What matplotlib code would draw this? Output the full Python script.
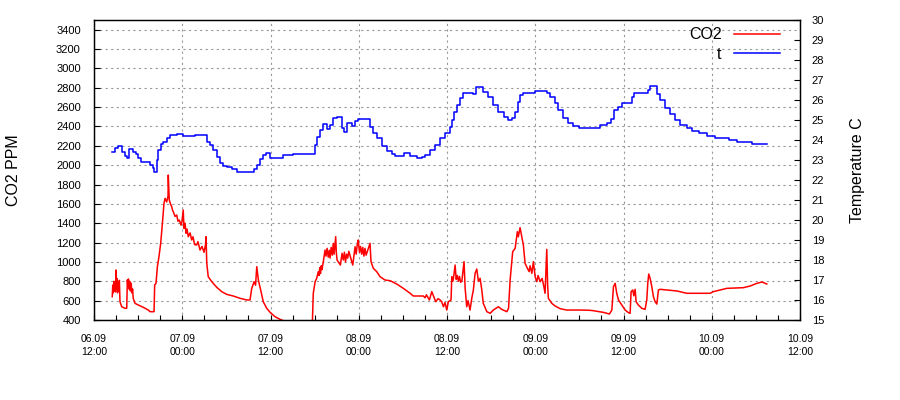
import numpy as np
import matplotlib
matplotlib.use("Agg")
import matplotlib.pyplot as plt
import matplotlib.dates as mdates

plt.rcParams['font.family'] = ['Liberation Sans', 'DejaVu Sans']

START = np.datetime64('2013-09-06T12:00')

# CO2 series: hours since 06.09 12:00, ppm
co2_hours = [2.49, 2.55, 2.62, 2.70, 2.78, 2.85, 2.92, 3.0, 3.05, 3.12, 3.2, 3.28, 3.36, 3.45, 3.54,
             3.77, 4.22, 4.45, 4.53, 4.6, 4.68, 4.76, 4.85, 4.95, 5.05, 5.15, 5.25, 5.34, 5.58, 6.02,
             6.70, 7.38, 7.62, 8.16, 8.25, 8.43, 8.61, 8.84, 9.07, 9.29, 9.52, 9.66, 9.89, 10.06,
             10.10, 10.24, 10.4, 10.57, 10.7, 10.79, 11.02, 11.25, 11.42, 11.60, 11.83, 11.97, 12.14,
             12.24, 12.38, 12.51, 12.65, 12.82, 13.06, 13.29, 13.46, 13.67, 13.97, 14.14, 14.42,
             14.69, 14.96, 15.16, 15.23, 15.33, 15.54, 16.01, 16.69, 17.37, 18.05, 18.94, 19.86,
             20.77, 21.22, 21.45, 21.76, 21.96, 22.13, 22.35, 22.67, 23.02, 23.49, 23.94, 24.62,
             25.30, 25.98, 27.0, 29.0, 29.69, 29.82, 30.06, 30.29, 30.50, 30.6, 30.7, 30.8, 30.9,
             31.0, 31.18, 31.42, 31.55, 31.7, 31.85, 32.0, 32.1, 32.25, 32.4, 32.54, 32.65, 32.86,
             32.95, 33.05, 33.50, 33.74, 33.9, 34.05, 34.2, 34.35, 34.5, 34.65, 35.18, 35.50, 35.65,
             35.8, 35.94, 36.1, 36.25, 36.4, 36.55, 36.7, 36.85, 37.0, 37.54, 37.67, 37.98, 38.45,
             38.9, 39.58, 40.26, 41.17, 42.06, 42.98, 43.42, 44.78, 45.02, 45.2, 45.60, 45.93, 46.1,
             46.47, 46.78, 47.06, 47.29, 47.51, 47.74, 47.97, 48.19, 48.55, 48.65, 48.8, 48.95,
             49.1, 49.25, 49.4, 49.55, 49.7, 49.85, 50.01, 50.32, 50.46, 50.69, 50.86, 51.14, 51.37,
             51.58, 51.82, 52.05, 52.27, 52.50, 52.73, 52.94, 53.41, 53.86, 54.30, 54.98, 55.43,
             56.13, 56.37, 56.58, 56.94, 57.26, 57.57, 57.7, 57.94, 58.17, 58.38, 58.62, 58.93,
             59.16, 59.30, 59.53, 59.75, 59.98, 60.21, 60.38, 60.66, 60.93, 61.13, 61.34, 61.57,
             61.68, 61.79, 62.25, 62.70, 63.38, 64.29, 66.10, 67.46, 67.90, 69.26, 70.08, 70.41,
             70.63, 70.86, 71.09, 71.31, 71.77, 72.22, 72.66, 72.90, 73.03, 73.26, 73.4, 73.58,
             73.71, 74.02, 74.49, 74.94, 75.17, 75.30, 75.44, 75.62, 75.85, 76.06, 76.30, 76.53,
             76.75, 76.98, 79.25, 80.61, 83.78, 84.22, 85.14, 86.05, 88.30, 89.22, 90.13, 90.81,
             91.49]
co2_ppm = [641, 760, 680, 800, 700, 780, 690, 917, 720, 830, 680, 790, 700, 810, 589,
           537, 521, 521, 813, 760, 824, 720, 800, 700, 780, 680, 720, 624, 572, 555,
           531, 503, 486, 486, 762, 779, 951, 1054, 1192, 1382, 1606, 1657, 1620, 1680,
           1898, 1640, 1600, 1571, 1530, 1519, 1470, 1485, 1420, 1433, 1380, 1420, 1537,
           1347, 1400, 1296, 1340, 1261, 1300, 1227, 1260, 1180, 1175, 1210, 1123,
           1160, 1100, 1180, 1261, 986, 847, 796, 738, 693, 665, 648, 624,
           607, 607, 727, 796, 760, 951, 813, 710, 589, 521, 480, 434,
           407, 385, 350, 340, 350, 676, 796, 831, 899, 860, 940, 880, 960,
           920, 1003, 1123, 1060, 1140, 1050, 1120, 1040, 1150, 1070, 1192, 1080, 1261,
           1100, 1020, 968, 1089, 1020, 1100, 1000, 1080, 1040, 1110, 968, 1157, 1080,
           1180, 1227, 1100, 1160, 1080, 1150, 1060, 1140, 1070, 1192, 1003, 934, 899,
           847, 813, 806, 772, 727, 676, 648, 648, 630, 660, 607, 693, 660,
           589, 620, 607, 589, 537, 580, 503, 589, 607, 847, 800, 870,
           968, 820, 860, 800, 850, 790, 800, 1003, 727, 537, 600, 503, 624,
           710, 882, 927, 800, 831, 710, 572, 486, 469, 503, 537, 510,
           486, 520, 813, 1106, 1141, 1313, 1260, 1354, 1261, 1175, 986, 934,
           900, 960, 882, 1003, 847, 796, 860, 796, 830, 760, 676, 1130,
           760, 624, 572, 545, 517, 503, 503, 500, 496, 479, 462, 503,
           744, 779, 676, 607, 555, 503, 476, 469, 693, 710, 650, 717,
           589, 555, 521, 510, 607, 779, 875, 831, 744, 641, 589, 565,
           710, 717, 700, 676, 676, 693, 710, 727, 734, 751, 779, 793,
           772]

# Temperature series: hours since 06.09 12:00, degrees C
temp_hours = [2.5, 2.9, 3.3, 3.8, 4.2, 4.45, 4.8, 5.3, 5.7, 6.0, 6.35, 7.4, 7.6, 8.0, 8.2, 8.5,
              8.75, 9.1, 9.4, 9.9, 10.3, 11.25, 12.1, 13.7, 15.1, 15.3, 15.8, 16.2, 16.7, 17.1,
              17.6, 18.05, 18.7, 19.4, 20.8, 21.7, 22.1, 22.6, 23.0, 23.35, 23.9, 25.3, 25.7,
              26.7, 27.1, 29.7, 30.0, 30.3, 30.7, 31.1, 31.7, 32.1, 32.5, 33.0, 33.7, 34.0, 34.4,
              35.05, 35.5, 35.9, 37.1, 37.5, 38.0, 38.45, 39.1, 39.8, 40.5, 40.9, 41.6, 42.1,
              43.0, 43.9, 44.6, 45.0, 45.7, 46.4, 47.1, 47.7, 48.4, 48.65, 48.95, 49.3, 49.8,
              50.2, 51.6, 51.95, 52.5, 52.9, 53.6, 54.3, 55.0, 55.7, 56.3, 56.8, 57.3, 57.6,
              57.9, 58.4, 59.3, 59.9, 61.6, 62.0, 62.7, 63.1, 63.8, 64.5, 65.2, 65.9, 68.4,
              68.8, 69.7, 70.3, 70.7, 71.3, 71.8, 72.9, 73.1, 73.4, 74.7, 75.3, 75.6, 76.5,
              77.0, 77.7, 78.3, 79.0, 79.7, 80.6, 81.3, 82.2, 83.3, 84.5, 86.3, 87.4, 89.5, 91.5]
temp_c = [23.4, 23.6, 23.7, 23.4, 23.2, 23.1, 23.55, 23.4, 23.3, 23.1, 22.9, 22.9, 22.75, 22.6,
          22.4, 23.0, 23.5, 23.8, 23.9, 24.1, 24.25, 24.3, 24.2, 24.25, 24.25, 23.9, 23.75, 23.5,
          23.15, 22.85, 22.7, 22.65, 22.55, 22.4, 22.4, 22.55, 22.75, 23.05, 23.25, 23.35, 23.1,
          23.1, 23.25, 23.25, 23.3, 23.3, 23.75, 24.15, 24.5, 24.8, 24.55, 24.75, 25.1, 25.15,
          24.6, 24.4, 24.85, 24.7, 24.95, 25.05, 25.05, 24.65, 24.35, 24.1, 23.7, 23.45, 23.3,
          23.2, 23.2, 23.35, 23.2, 23.1, 23.15, 23.25, 23.5, 23.75, 24.1, 24.35, 24.65, 25.0,
          25.4, 25.75, 26.1, 26.35, 26.3, 26.65, 26.65, 26.4, 26.15, 25.75, 25.4, 25.15, 25.0,
          25.1, 25.4, 25.9, 26.25, 26.35, 26.35, 26.45, 26.35, 26.15, 25.85, 25.5, 25.1, 24.85,
          24.7, 24.6, 24.6, 24.75, 24.85, 25.05, 25.5, 25.65, 25.85, 25.85, 26.15, 26.35, 26.35,
          26.5, 26.7, 26.3, 26.0, 25.6, 25.3, 25.0, 24.75, 24.6, 24.45, 24.35, 24.2, 24.1, 24.0,
          23.9, 23.8, 23.8]

co2_ticks = list(range(400, 3401, 200))
temp_ticks = list(range(15, 31))
x_range_hours = [0, 96]


def to_time(hours):
    return START + (np.asarray(hours) * 60).round().astype('timedelta64[m]')


fig = plt.figure(figsize=(9, 4), dpi=100)
ax = fig.add_axes([94 / 900, 80 / 400, 706 / 900, 300 / 400])
ax2 = ax.twinx()

l1, = ax.plot(to_time(co2_hours), co2_ppm, color='#ff0000', lw=1.1, label='CO2')
l2, = ax2.plot(to_time(temp_hours), temp_c, color='#0000ff', lw=1.1, drawstyle='steps-post', label='t')

ax.set_xlim(to_time(x_range_hours[0]), to_time(x_range_hours[1]))
ax.set_ylim(400, 3500)
ax2.set_ylim(15, 30)
ax.set_yticks(co2_ticks)
ax2.set_yticks(temp_ticks)

ax.xaxis.set_major_locator(mdates.HourLocator(byhour=[0, 12]))
ax.xaxis.set_minor_locator(mdates.HourLocator(byhour=range(0, 24, 3)))
ax.xaxis.set_major_formatter(mdates.DateFormatter('%d.%m\n%H:%M'))

ax.tick_params(axis='y', which='both', direction='in', length=4.5, width=0.8, labelsize=8, pad=9.5)
ax.tick_params(axis='x', which='both', direction='in', length=3.5, width=0.8, labelsize=7.5, pad=10)
ax2.tick_params(axis='y', which='both', direction='in', length=4.5, width=0.8, labelsize=8, pad=8.5)
for lab in ax.get_xticklabels():
    lab.set_linespacing(1.35)

ax.grid(True, which='major', color='#999999', linestyle=(0, (2, 3)), linewidth=0.8)
ax.set_axisbelow(True)

for a in (ax, ax2):
    for s in a.spines.values():
        s.set_linewidth(0.9)
        s.set_color('black')

ax.set_ylabel('CO2 PPM', fontsize=11.5)
ax2.set_ylabel('Temperature C', fontsize=11.5)
ax.yaxis.set_label_coords((21 - 94) / 706, 0.5)
ax2.yaxis.set_label_coords((850 - 94) / 706, 0.5)

leg = ax2.legend(handles=[l1, l2], loc='upper right', frameon=False, markerfirst=False,
                 fontsize=11.5, handlelength=2.85, handletextpad=0.8, labelspacing=0.3,
                 borderaxespad=0, borderpad=0.2, bbox_to_anchor=(1 - 17 / 706, 1.0 - 4 / 300))

fig.savefig('out.png', dpi=100)
